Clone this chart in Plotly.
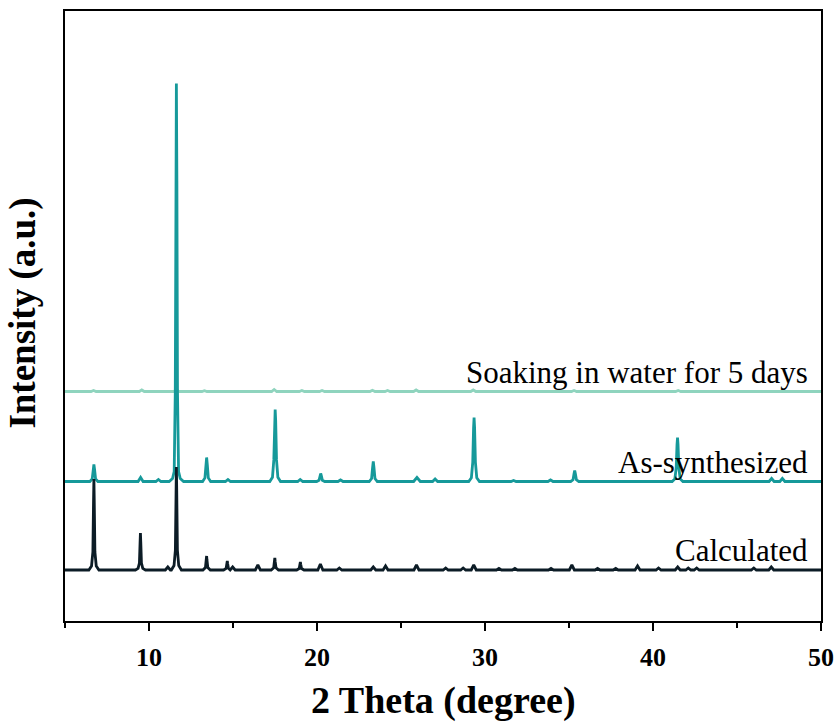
import plotly.graph_objects as go

# Powder XRD patterns, intensity in arbitrary units (baseline = 0 for each pattern).
# Peak profiles are listed as vertices along 2-theta.

calc_2theta = [
    5.0,
    6.42, 6.58, 6.66, 6.70, 6.72, 6.74, 6.78, 6.86, 7.02,
    9.19, 9.35, 9.43, 9.47, 9.49, 9.51, 9.55, 9.63, 9.79,
    10.97, 11.12, 11.27,
    11.33, 11.49, 11.57, 11.61, 11.63, 11.65, 11.69, 11.77, 11.93,
    13.21, 13.36, 13.41, 13.43, 13.45, 13.50, 13.65,
    14.44, 14.59, 14.64, 14.66, 14.68, 14.73, 14.82,
    14.83, 14.98, 15.13,
    16.33, 16.48, 16.63,
    17.27, 17.42, 17.47, 17.49, 17.51, 17.56, 17.71,
    18.79, 18.94, 18.99, 19.01, 19.03, 19.08, 19.23,
    20.05, 20.20, 20.35,
    21.18, 21.33, 21.48,
    23.20, 23.35, 23.50,
    23.93, 24.08, 24.23,
    25.77, 25.92, 26.07,
    27.51, 27.66, 27.81,
    28.55, 28.70, 28.85,
    29.18, 29.33, 29.48,
    30.68, 30.83, 30.98,
    31.63, 31.78, 31.93,
    33.78, 33.93, 34.08,
    35.02, 35.17, 35.32,
    36.55, 36.70, 36.85,
    37.63, 37.78, 37.93,
    38.93, 39.08, 39.23,
    40.18, 40.33, 40.48,
    41.32, 41.47, 41.62,
    41.95, 42.10, 42.25,
    42.45, 42.60, 42.75,
    45.85, 46.00, 46.15,
    46.89, 47.04, 47.19,
    50.0,
]
calc_intensity = [
    0,
    0, 4, 18, 70, 91, 70, 18, 4, 0,
    0, 1.6, 7, 28, 37, 28, 7, 1.6, 0,
    0, 3, 0,
    0, 4.5, 20, 80, 103, 80, 20, 4.5, 0,
    0, 2.5, 10, 14, 10, 2.5, 0,
    0, 1.6, 6.5, 9, 6.5, 1.6, 0,
    0, 3, 0,
    0, 5, 0,
    0, 2.2, 8.5, 12, 8.5, 2.2, 0,
    0, 1.5, 5.8, 8, 5.8, 1.5, 0,
    0, 6, 0,
    0, 2, 0,
    0, 3, 0,
    0, 4, 0,
    0, 5, 0,
    0, 2, 0,
    0, 2, 0,
    0, 5, 0,
    0, 1.5, 0,
    0, 1.5, 0,
    0, 1.5, 0,
    0, 5, 0,
    0, 1.5, 0,
    0, 1.5, 0,
    0, 4, 0,
    0, 2, 0,
    0, 3, 0,
    0, 2, 0,
    0, 2, 0,
    0, 2, 0,
    0, 3, 0,
    0,
]

as_2theta = [
    5.0,
    6.48, 6.62, 6.68, 6.72, 6.76, 6.82, 6.96,
    9.35, 9.50, 9.65,
    10.41, 10.56, 10.71,
    11.20, 11.40, 11.50, 11.565, 11.60, 11.63, 11.66, 11.695, 11.76, 11.86, 12.06,
    13.19, 13.33, 13.39, 13.43, 13.47, 13.53, 13.67,
    14.55, 14.70, 14.85,
    17.19, 17.35, 17.43, 17.48, 17.51, 17.54, 17.59, 17.67, 17.83,
    18.85, 19.00, 19.15,
    19.98, 20.12, 20.18, 20.22, 20.26, 20.32, 20.46,
    21.25, 21.40, 21.55,
    23.11, 23.25, 23.31, 23.35, 23.39, 23.45, 23.59,
    25.75, 25.95, 26.15,
    26.88, 27.03, 27.18,
    29.03, 29.19, 29.27, 29.32, 29.35, 29.38, 29.43, 29.51, 29.67,
    31.55, 31.70, 31.85,
    33.75, 33.90, 34.05,
    35.10, 35.24, 35.30, 35.34, 35.38, 35.44, 35.58,
    41.14, 41.30, 41.38, 41.43, 41.46, 41.49, 41.54, 41.62, 41.78,
    46.91, 47.06, 47.21,
    47.55, 47.70, 47.85,
    50.0,
]
as_intensity = [
    0,
    0, 2.6, 12, 17, 12, 2.6, 0,
    0, 4, 0,
    0, 2, 0,
    0, 3, 10, 90, 300, 398, 300, 90, 10, 3, 0,
    0, 3.6, 17, 24, 17, 3.6, 0,
    0, 2, 0,
    0, 4.3, 21.6, 61, 72, 61, 21.6, 4.3, 0,
    0, 2, 0,
    0, 1.2, 5.6, 8, 5.6, 1.2, 0,
    0, 1.5, 0,
    0, 3, 14, 20, 14, 3, 0,
    0, 4, 0,
    0, 2.5, 0,
    0, 3.8, 19.2, 54, 64, 54, 19.2, 3.8, 0,
    0, 1, 0,
    0, 1.5, 0,
    0, 1.7, 7.7, 11, 7.7, 1.7, 0,
    0, 2.6, 13.2, 37, 44, 37, 13.2, 2.6, 0,
    0, 3, 0,
    0, 3, 0,
    0,
]

soak_2theta = [
    5.0,
    6.55, 6.70, 6.85,
    9.42, 9.57, 9.72,
    11.48, 11.63, 11.78,
    13.15, 13.30, 13.45,
    17.30, 17.45, 17.60,
    18.95, 19.10, 19.25,
    20.15, 20.30, 20.45,
    23.15, 23.30, 23.45,
    24.05, 24.20, 24.35,
    25.75, 25.90, 26.05,
    29.15, 29.30, 29.45,
    35.15, 35.30, 35.45,
    41.35, 41.50, 41.65,
    50.0,
]
soak_intensity = [
    0,
    0, 1, 0,
    0, 1.5, 0,
    0, 2, 0,
    0, 0.8, 0,
    0, 2, 0,
    0, 1, 0,
    0, 1, 0,
    0, 1.2, 0,
    0, 1, 0,
    0, 1.5, 0,
    0, 1.5, 0,
    0, 1, 0,
    0, 1, 0,
    0,
]

series_names = ["Soaking in water for 5 days", "As-synthesized", "Calculated"]
stack_offsets = [178.5, 88.5, 0.0]
series_colors = ["#8fd4be", "#16999a", "#0c1c26"]
series_data = [
    (soak_2theta, soak_intensity),
    (as_2theta, as_intensity),
    (calc_2theta, calc_intensity),
]

x_range = [5, 50]
y_range = [-51, 559]

serif = "Liberation Serif, Times New Roman, serif"

fig = go.Figure()
for name, offset, color, (tt, inten) in zip(series_names, stack_offsets, series_colors, series_data):
    fig.add_trace(go.Scatter(
        x=tt,
        y=[v + offset for v in inten],
        mode="lines",
        name=name,
        line=dict(color=color, width=2.8),
        showlegend=False,
        hoverinfo="skip",
    ))
    fig.add_annotation(
        x=49.35, y=offset, xref="x", yref="y",
        text=name, showarrow=False,
        xanchor="right", yanchor="bottom",
        font=dict(family=serif, size=31, color="#000000"),
    )

fig.add_annotation(
    x=0.5, y=-0.13, xref="paper", yref="paper",
    text="<b>2 Theta (degree)</b>", showarrow=False,
    xanchor="center", yanchor="middle",
    font=dict(family=serif, size=38, color="#000000"),
)
fig.add_annotation(
    x=-0.056, y=0.505, xref="paper", yref="paper",
    text="<b>Intensity (a.u.)</b>", showarrow=False, textangle=-90,
    xanchor="center", yanchor="middle",
    font=dict(family=serif, size=37, color="#000000"),
)

fig.update_layout(
    width=838, height=728,
    margin=dict(l=65, r=17, t=11, b=107, autoexpand=False),
    paper_bgcolor="white", plot_bgcolor="white",
    xaxis=dict(
        range=x_range, showgrid=False, zeroline=False, automargin=False,
        showline=True, mirror=True, linecolor="black", linewidth=2,
        ticks="outside", ticklen=8, tickwidth=2, tickcolor="black",
        tick0=0, dtick=10, ticklabelstandoff=4,
        tickfont=dict(family=serif, size=26, color="black", weight="bold"),
        minor=dict(ticks="outside", ticklen=5, tickwidth=2, tickcolor="black", dtick=5, tick0=0),
    ),
    yaxis=dict(
        range=y_range, showgrid=False, zeroline=False, automargin=False,
        showline=True, mirror=True, linecolor="black", linewidth=2,
        ticks="", showticklabels=False,
    ),
)

fig.write_html("out.html")
